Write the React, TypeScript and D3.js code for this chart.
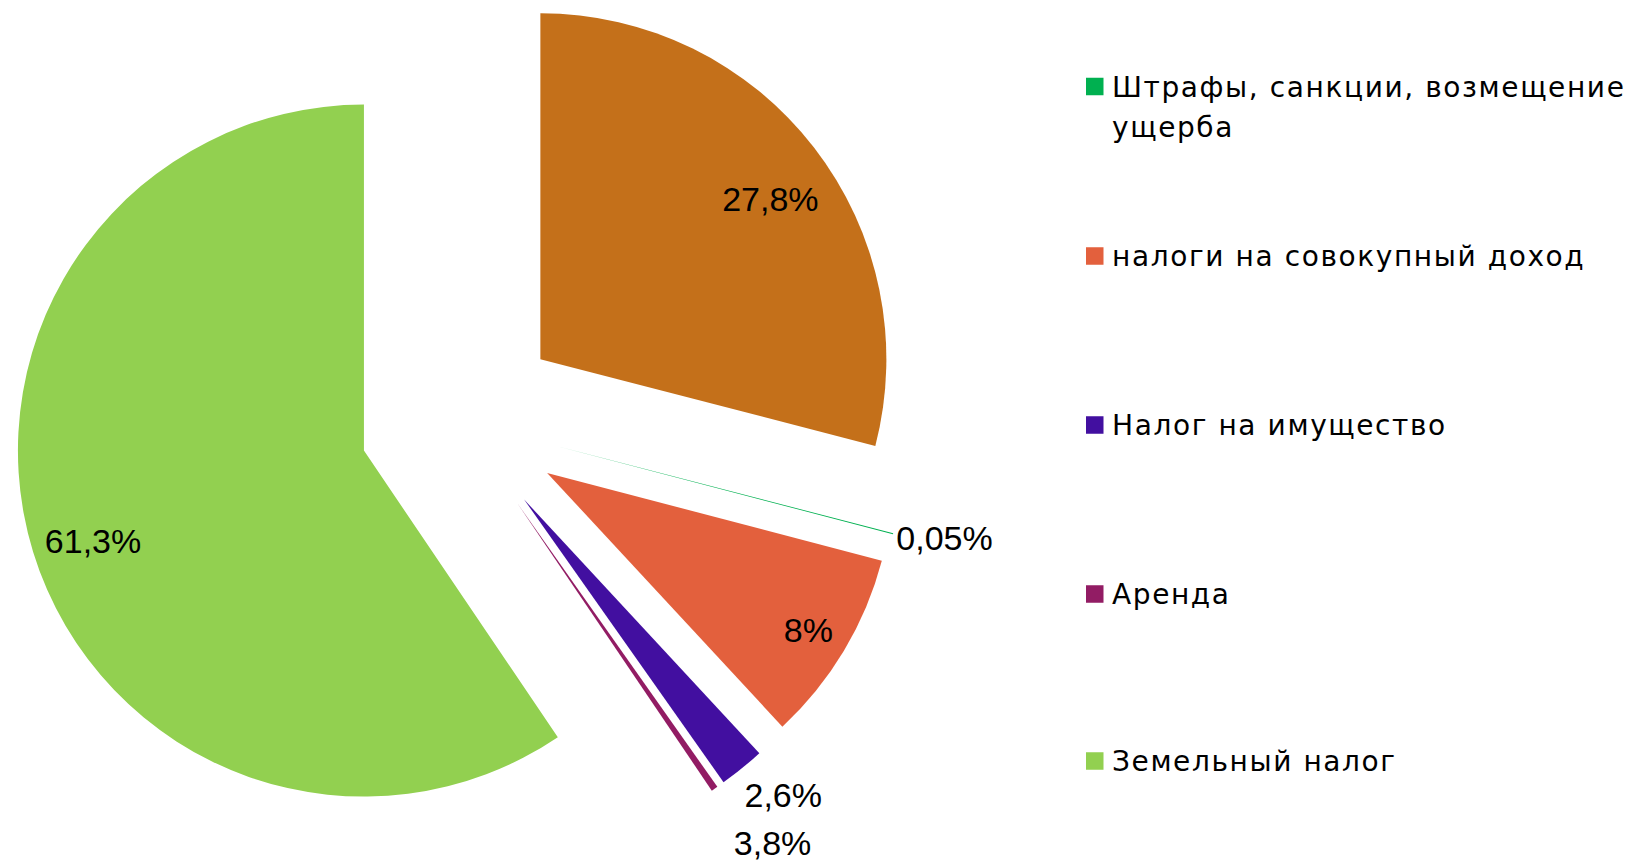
import React from "react";
import * as d3 from "d3";

// ---- data ----
const categories = [
  "Прочие доходы",
  "Штрафы, санкции, возмещение ущерба",
  "налоги на совокупный доход",
  "Налог на имущество",
  "Аренда",
  "Земельный налог",
];
// slice sizes as drawn (measured from the slice angles)
const shares = [29.01, 0.05, 9.01, 2.12, 0.31, 59.42];
// data label texts as printed on the chart
const labelTexts = ["27,8%", "0,05%", "8%", "2,6%", "3,8%", "61,3%"];
const colors = ["#C4701A", "#00B050", "#E3603D", "#420FA0", "#921C64", "#92D050"];
const inLegend = [false, true, true, true, true, true];
const legendLines = [
  [],
  ["Штрафы, санкции, возмещение", "ущерба"],
  ["налоги на совокупный доход"],
  ["Налог на имущество"],
  ["Аренда"],
  ["Земельный налог"],
];

// ---- layout ----
const W = 1645;
const H = 863;
const CX = 460.5;
const CY = 421;
const R = 346;
const EXPLODE = 101;
const LABEL_FONT = 34;
type LabelPlace = { mode: "in" | "out"; k?: number; dx: number; dy: number };
const labelPlace: LabelPlace[] = [
  { mode: "in", k: 0.81, dx: 8.4, dy: 11.4 },
  { mode: "out", dx: 3.3, dy: 3.7 },
  { mode: "in", k: 0.88, dx: 0, dy: 0.5 },
  { mode: "out", dx: 2.6, dy: 26.6 },
  { mode: "out", dx: 19.2, dy: 54.5 },
  { mode: "in", k: 0.83, dx: 3.7, dy: 6.3 },
];
const LEGEND_X = 1086;
const LEGEND_MARK = 17.5;
const LEGEND_TEXT_X = 1112;
const legendCenters = [0, 86.5, 256, 425, 594, 761];
const LEGEND_FONT = 28;
const LEGEND_LINE = 40;

export default function App() {
  const pie = d3
    .pie<number>()
    .sort(null)
    .value((d) => d)
    .startAngle(0)
    .endAngle(2 * Math.PI);
  const arcs = pie(shares);
  const arcGen = d3.arc<d3.PieArcDatum<number>>().innerRadius(0).outerRadius(R);

  const slices = arcs.map((a, i) => {
    const mid = (a.startAngle + a.endAngle) / 2;
    const ux = Math.sin(mid);
    const uy = -Math.cos(mid);
    const ax = CX + EXPLODE * ux;
    const ay = CY + EXPLODE * uy;
    const p = labelPlace[i];
    let lx: number;
    let ly: number;
    let anchor: "middle" | "start" = "middle";
    if (p.mode === "in") {
      lx = ax + (p.k ?? 0.8) * R * ux + p.dx;
      ly = ay + (p.k ?? 0.8) * R * uy + p.dy;
    } else {
      lx = ax + R * ux + p.dx;
      ly = ay + R * uy + p.dy;
      anchor = "start";
    }
    return { a, i, ax, ay, lx, ly, anchor };
  });

  return (
    <div style={{ position: "absolute", left: 0, top: 0 }}>
      <svg width={W} height={H} style={{ display: "block", background: "#fff" }}>
        <g>
          {slices.map((s) => (
            <path
              key={"s" + s.i}
              d={arcGen(s.a) || ""}
              transform={`translate(${s.ax},${s.ay})`}
              fill={colors[s.i]}
            />
          ))}
        </g>
        <g fontFamily="'Liberation Sans', Arial, sans-serif" fontSize={LABEL_FONT} fill="#000">
          {slices.map((s) => (
            <text
              key={"l" + s.i}
              x={s.lx}
              y={s.ly + LABEL_FONT * 0.358}
              textAnchor={s.anchor}
            >
              {labelTexts[s.i]}
            </text>
          ))}
        </g>
        <g fontFamily="'DejaVu Sans', sans-serif" fontSize={LEGEND_FONT} fill="#000">
          {categories.map((c, i) =>
            inLegend[i] ? (
              <g key={"lg" + i}>
                <rect
                  x={LEGEND_X}
                  y={legendCenters[i] - LEGEND_MARK / 2}
                  width={LEGEND_MARK}
                  height={LEGEND_MARK}
                  fill={colors[i]}
                />
                {legendLines[i].map((ln, j) => (
                  <text
                    key={j}
                    x={LEGEND_TEXT_X}
                    y={legendCenters[i] + 10 + j * LEGEND_LINE}
                    letterSpacing={1.6}
                  >
                    {ln}
                  </text>
                ))}
              </g>
            ) : null
          )}
        </g>
      </svg>
    </div>
  );
}
